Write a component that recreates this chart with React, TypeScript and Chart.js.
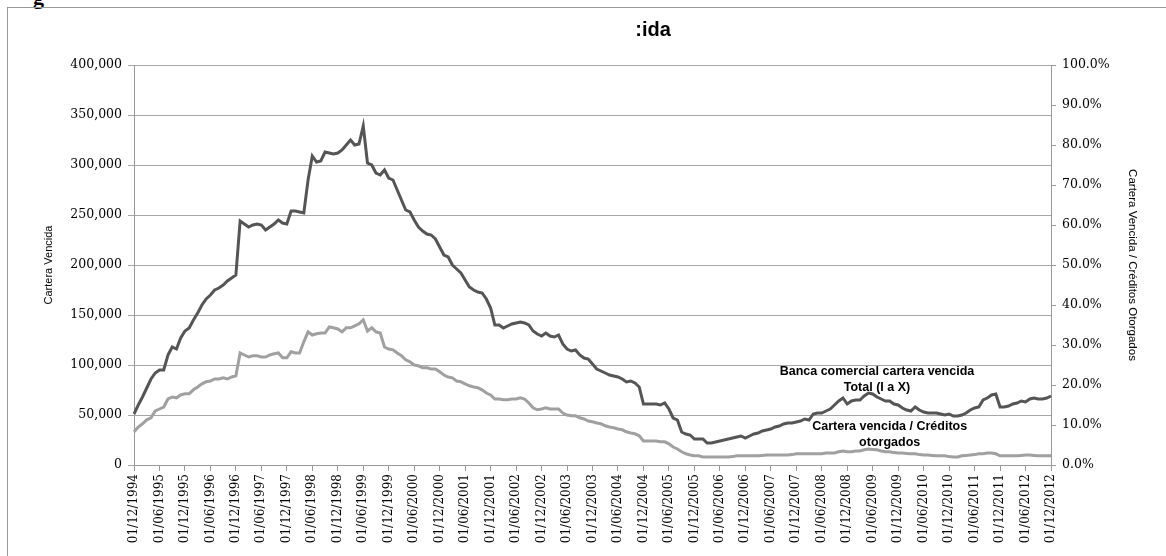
import React, { useEffect, useRef } from "react";
import { Chart, registerables } from "chart.js";

Chart.register(...registerables);

// Category axis: monthly observations, Dec 1994 – Dec 2012
const START_YEAR = 1994;
const START_MONTH = 12;
const MONTH_COUNT = 217;
const months: string[] = [];
for (let k = 0; k < MONTH_COUNT; k++) {
  const m0 = START_MONTH - 1 + k;
  const y = START_YEAR + Math.floor(m0 / 12);
  const m = (m0 % 12) + 1;
  months.push(`01/${m < 10 ? "0" + m : m}/${y}`);
}
const LABEL_EVERY = 6;

// Banca comercial cartera vencida Total (I a X) — left axis
const carteraVencida: number[] = [
  51000,
  60000, 68000, 77000, 86000, 92000, 95000, 95000, 110000, 118000, 116000, 127000, 134000,
  137000, 145000, 152000, 160000, 166000, 170000, 175000, 177000, 180000, 184000, 187000, 190000,
  244000, 241000, 238000, 240000, 241000, 240000, 235000, 238000, 241000, 245000, 242000, 241000,
  254000, 254000, 253000, 252000, 285000, 309000, 303000, 304000, 313000, 312000, 311000, 312000,
  315000, 320000, 325000, 320000, 321000, 339000, 302000, 300000, 292000, 290000, 295000, 287000,
  285000, 275000, 265000, 255000, 253000, 245000, 238000, 234000, 231000, 230000, 226000, 218000,
  210000, 208000, 200000, 196000, 192000, 185000, 178000, 175000, 173000, 172000, 166000, 157000,
  140000, 140000, 137000, 139000, 141000, 142000, 143000, 142000, 140000, 134000, 131000, 129000,
  132000, 129000, 128000, 130000, 121000, 116000, 114000, 115000, 110000, 107000, 106000, 101000,
  96000, 94000, 92000, 90000, 89000, 88000, 86000, 83000, 84000, 82000, 78000, 61000,
  61000, 61000, 61000, 60000, 62000, 56000, 47000, 45000, 33000, 31000, 30000, 26000,
  26000, 26000, 22000, 22000, 23000, 24000, 25000, 26000, 27000, 28000, 29000, 27000,
  29000, 31000, 32000, 34000, 35000, 36000, 38000, 39000, 41000, 42000, 42000, 43000,
  44000, 46000, 45000, 51000, 52000, 52000, 54000, 56000, 60000, 64000, 67000, 61000,
  64000, 65000, 65000, 69000, 72000, 71000, 68000, 66000, 64000, 64000, 61000, 60000,
  57000, 55000, 54000, 58000, 55000, 53000, 52000, 52000, 52000, 51000, 50000, 51000,
  49000, 49000, 50000, 52000, 55000, 57000, 58000, 65000, 67000, 70000, 71000, 58000,
  58000, 59000, 61000, 62000, 64000, 63000, 66000, 67000, 66000, 66000, 67000, 69000,
];

// Cartera vencida / Créditos otorgados (%) — right axis
const ratioVencida: number[] = [
  8.3,
  9.5, 10.3, 11.3, 11.8, 13.5, 14.0, 14.5, 16.5, 17.0, 16.8, 17.5, 17.8,
  17.8, 18.8, 19.5, 20.3, 20.8, 21.0, 21.5, 21.5, 21.8, 21.5, 22.0, 22.3,
  28.0, 27.5, 27.0, 27.3, 27.3, 27.0, 27.0, 27.5, 27.8, 28.0, 26.8, 26.8,
  28.3, 28.0, 28.0, 30.8, 33.3, 32.5, 32.8, 33.0, 33.0, 34.5, 34.3, 34.0,
  33.3, 34.3, 34.3, 34.8, 35.3, 36.3, 33.5, 34.3, 33.3, 33.0, 29.5, 29.0,
  28.8, 28.0, 27.3, 26.3, 25.8, 25.0, 24.8, 24.3, 24.3, 24.0, 24.0, 23.3,
  22.5, 22.0, 21.8, 21.0, 20.8, 20.3, 19.8, 19.5, 19.3, 18.8, 18.0, 17.5,
  16.5, 16.5, 16.3, 16.3, 16.5, 16.5, 16.8, 16.5, 15.5, 14.3, 13.8, 14.0,
  14.3, 14.0, 14.0, 14.0, 13.0, 12.5, 12.3, 12.3, 11.8, 11.5, 11.0, 10.8,
  10.5, 10.3, 9.8, 9.5, 9.3, 9.0, 8.8, 8.3, 8.0, 7.8, 7.3, 6.0,
  6.0, 6.0, 6.0, 5.8, 5.8, 5.3, 4.5, 4.0, 3.3, 2.8, 2.5, 2.3,
  2.3, 2.0, 2.0, 2.0, 2.0, 2.0, 2.0, 2.0, 2.1, 2.3, 2.3, 2.3,
  2.3, 2.3, 2.3, 2.4, 2.5, 2.5, 2.5, 2.5, 2.5, 2.5, 2.6, 2.8,
  2.8, 2.8, 2.8, 2.8, 2.8, 2.8, 3.0, 3.0, 3.0, 3.3, 3.5, 3.3,
  3.3, 3.5, 3.5, 3.8, 4.0, 3.9, 3.8, 3.5, 3.3, 3.3, 3.1, 3.0,
  3.0, 2.9, 2.8, 2.8, 2.6, 2.5, 2.5, 2.4, 2.3, 2.3, 2.3, 2.1,
  2.0, 2.0, 2.3, 2.4, 2.5, 2.6, 2.8, 2.8, 3.0, 3.0, 2.8, 2.3,
  2.3, 2.3, 2.3, 2.3, 2.4, 2.5, 2.5, 2.4, 2.3, 2.3, 2.3, 2.3,
];

const TITLE_TEXT = ":ida";
const LEFT_AXIS_TITLE = "Cartera Vencida";
const RIGHT_AXIS_TITLE = "Cartera Vencida / Créditos Otorgados";
const LEFT_MAX = 400000;
const LEFT_STEP = 50000;
const RIGHT_MAX = 100;
const RIGHT_STEP = 10;

// in-chart series labels, anchored in data coordinates (month index, left-axis value)
const seriesNotes = [
  { lines: ["Banca comercial cartera vencida", "Total (I a X)"], index: 175, value: 93000 },
  { lines: ["Cartera vencida / Créditos", "otorgados"], index: 178, value: 38000 },
];

const DARK = "#555555";
const LIGHT = "#a0a0a0";
const GRID = "#a6a6a6";
const SERIF = "'DejaVu Serif', 'Liberation Serif', serif";
const SANS = "'Liberation Sans', Arial, sans-serif";

const textPlugin = {
  id: "textPlugin",
  afterDatasetsDraw(chart: any) {
    const ctx = chart.ctx;
    const xs = chart.scales.x;
    const ys = chart.scales.y;
    ctx.save();
    ctx.fillStyle = "#000";
    ctx.textAlign = "center";
    ctx.textBaseline = "middle";
    ctx.font = `bold 20px ${SANS}`;
    ctx.fillText(TITLE_TEXT, 653, 30);
    ctx.font = `bold 12.5px ${SANS}`;
    for (const n of seriesNotes) {
      const cx = xs.getPixelForValue(n.index);
      const cy = ys.getPixelForValue(n.value);
      n.lines.forEach((t, k) => ctx.fillText(t, cx, cy + k * 15.5));
    }
    ctx.restore();
  },
};

export default function App() {
  const ref = useRef<HTMLCanvasElement | null>(null);
  useEffect(() => {
    if (!ref.current) return;
    const chart = new Chart(ref.current, {
      type: "line",
      data: {
        labels: months,
        datasets: [
          {
            label: "Cartera vencida / Créditos otorgados",
            data: ratioVencida,
            yAxisID: "y1",
            borderColor: LIGHT,
            borderWidth: 3,
            pointRadius: 0,
            tension: 0,
          },
          {
            label: "Banca comercial cartera vencida Total (I a X)",
            data: carteraVencida,
            yAxisID: "y",
            borderColor: DARK,
            borderWidth: 3,
            pointRadius: 0,
            tension: 0,
          },
        ],
      },
      options: {
        animation: false,
        responsive: true,
        maintainAspectRatio: false,
        layout: { padding: { left: 38, right: 23, top: 65, bottom: 0 } },
        plugins: {
          legend: { display: false },
          title: { display: false },
          tooltip: { enabled: false },
        },
        scales: {
          x: {
            type: "category",
            offset: false,
            afterBuildTicks: (scale: any) => {
              scale.ticks = scale.ticks.filter((t: any) => t.value % LABEL_EVERY === 0);
            },
            afterFit: (scale: any) => {
              scale.height = 556 - 465;
            },
            ticks: {
              autoSkip: false,
              maxRotation: 90,
              minRotation: 90,
              padding: 3,
              color: "#000",
              font: { family: SERIF, size: 12 },
            },
            grid: { drawOnChartArea: false, tickLength: 6, color: "#999" },
            border: { color: "#999" },
          },
          y: {
            position: "left",
            min: 0,
            max: LEFT_MAX,
            afterFit: (scale: any) => {
              scale.width = 134 - 38;
            },
            ticks: {
              stepSize: LEFT_STEP,
              padding: 6,
              color: "#000",
              font: { family: SERIF, size: 12.5 },
              callback: (v: any) => Number(v).toLocaleString("en-US"),
            },
            grid: { color: GRID, tickLength: 6 },
            border: { color: "#999" },
            title: {
              display: true,
              text: LEFT_AXIS_TITLE,
              color: "#000",
              font: { family: SANS, size: 11 },
              padding: { top: 4, bottom: 4 },
            },
          },
          y1: {
            position: "right",
            min: 0,
            max: RIGHT_MAX,
            afterFit: (scale: any) => {
              scale.width = 1166 - 23 - 1051;
            },
            ticks: {
              stepSize: RIGHT_STEP,
              padding: 6,
              color: "#000",
              font: { family: SERIF, size: 12.5 },
              callback: (v: any) => Number(v).toFixed(1) + "%",
            },
            grid: { drawOnChartArea: false, color: "#999", tickLength: 5 },
            border: { color: "#999" },
            title: {
              display: true,
              text: RIGHT_AXIS_TITLE,
              color: "#000",
              font: { family: SANS, size: 11.5 },
              padding: { top: 4, bottom: 4 },
            },
          },
        },
      },
      plugins: [textPlugin],
    });
    return () => chart.destroy();
  }, []);

  return (
    <div
      style={{
        position: "fixed",
        left: 0,
        top: 0,
        width: 1166,
        height: 556,
        overflow: "hidden",
        background: "#fff",
      }}
    >
      <div
        style={{
          position: "absolute",
          left: 33,
          top: -16,
          fontFamily: "'Liberation Serif', serif",
          fontWeight: "bold",
          fontSize: 22,
          color: "#000",
        }}
      >
        g
      </div>
      <div
        style={{
          position: "absolute",
          left: 7,
          top: 7,
          width: 1180,
          height: 580,
          border: "1px solid #999",
          boxSizing: "border-box",
        }}
      />
      <div style={{ position: "absolute", left: 0, top: 0, width: 1166, height: 556 }}>
        <canvas ref={ref} />
      </div>
    </div>
  );
}
